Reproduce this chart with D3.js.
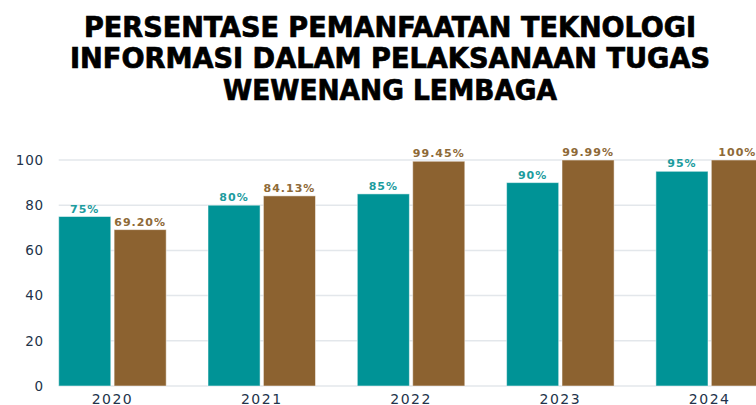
<!DOCTYPE html>
<html>
<head>
<meta charset="utf-8">
<script src="https://cdn.jsdelivr.net/npm/d3@7"></script>
<style>
  html, body { margin: 0; padding: 0; background: #fff; }
  svg { display: block; }
</style>
</head>
<body>
<div id="chart"></div>
<script>
// Data
const years = ['2020', '2021', '2022', '2023', '2024'];
const seriesA = [75, 80, 85, 90, 95];
const seriesB = [69.20, 84.13, 99.45, 99.99, 100];
const labelsA = ['75%', '80%', '85%', '90%', '95%'];
const labelsB = ['69.20%', '84.13%', '99.45%', '99.99%', '100%'];
const yTicks = [0, 20, 40, 60, 80, 100];
const titleLines = [
  'PERSENTASE PEMANFAATAN TEKNOLOGI',
  'INFORMASI DALAM PELAKSANAAN TUGAS',
  'WEWENANG LEMBAGA'
];

const width = 756, height = 405;
const colorA = '#009396', colorB = '#8c6230';
const textA = '#1c9c9e', textB = '#8e6a38';
const axisColor = '#22334a';

const svg = d3.select('#chart')
  .append('svg')
  .attr('width', width)
  .attr('height', height);

// Title, squeezed into the widths seen in the reference
const titleWidths = [612, 640, 334];
const titleBaselines = [37, 68, 100];
svg.append('g')
  .selectAll('text')
  .data(titleLines)
  .join('text')
  .attr('x', 390)
  .attr('y', (d, i) => titleBaselines[i])
  .attr('text-anchor', 'middle')
  .attr('textLength', (d, i) => titleWidths[i])
  .attr('lengthAdjust', 'spacingAndGlyphs')
  .style('font-family', '"DejaVu Sans Condensed", "DejaVu Sans", sans-serif')
  .style('font-weight', 'bold')
  .style('font-size', '29px')
  .style('fill', '#000')
  .style('stroke', '#000')
  .style('stroke-width', 0.7)
  .text(d => d);

// Scales
const x0 = d3.scaleBand()
  .domain(years)
  .range([58.7, 763.4])
  .paddingInner(0.28)
  .paddingOuter(0);

const x1 = d3.scaleBand()
  .domain(['a', 'b'])
  .range([0, x0.bandwidth()])
  .paddingInner(0.06);

const y = d3.scaleLinear()
  .domain([0, 100])
  .range([386, 160]);

// Gridlines
svg.append('g')
  .selectAll('line')
  .data(yTicks)
  .join('line')
  .attr('x1', 58.7)
  .attr('x2', width)
  .attr('y1', d => y(d))
  .attr('y2', d => y(d))
  .attr('stroke', '#e3e7eb')
  .attr('stroke-width', 1.5);

// Y axis labels
const yAxis = svg.append('g')
  .attr('transform', 'translate(44,0)')
  .call(d3.axisLeft(y).tickValues(yTicks).tickSize(0).tickPadding(0));
yAxis.select('.domain').remove();
yAxis.selectAll('text')
  .style('font-family', '"DejaVu Sans", sans-serif')
  .style('font-size', '13.5px')
  .style('letter-spacing', '0.8px')
  .style('fill', axisColor);

// Bars
const rows = years.map((yr, i) => ({
  year: yr,
  bars: [
    { key: 'a', value: seriesA[i], label: labelsA[i] },
    { key: 'b', value: seriesB[i], label: labelsB[i] }
  ]
}));

const groups = svg.append('g')
  .selectAll('g')
  .data(rows)
  .join('g')
  .attr('transform', d => `translate(${x0(d.year)},0)`);

groups.selectAll('rect')
  .data(d => d.bars)
  .join('rect')
  .attr('x', d => x1(d.key))
  .attr('y', d => y(d.value))
  .attr('width', x1.bandwidth())
  .attr('height', d => y(0) - y(d.value))
  .attr('fill', d => d.key === 'a' ? colorA : colorB)
  .attr('stroke', 'rgba(255,255,255,0.5)')
  .attr('stroke-width', 1);

groups.selectAll('text.value')
  .data(d => d.bars)
  .join('text')
  .classed('value', true)
  .attr('x', d => x1(d.key) + x1.bandwidth() / 2)
  .attr('y', d => y(d.value) - 4)
  .attr('text-anchor', 'middle')
  .style('font-family', '"DejaVu Sans", sans-serif')
  .style('font-weight', 'bold')
  .style('font-size', '11px')
  .style('letter-spacing', '1px')
  .style('fill', d => d.key === 'a' ? textA : textB)
  .text(d => d.label);

// X axis labels
const xAxis = svg.append('g')
  .attr('transform', 'translate(0,391)')
  .call(d3.axisBottom(x0).tickSize(0).tickPadding(0));
xAxis.select('.domain').remove();
xAxis.selectAll('text')
  .attr('dy', '0.95em')
  .style('font-family', '"DejaVu Sans", sans-serif')
  .style('font-size', '14px')
  .style('letter-spacing', '1.5px')
  .style('fill', axisColor);
</script>
</body>
</html>
